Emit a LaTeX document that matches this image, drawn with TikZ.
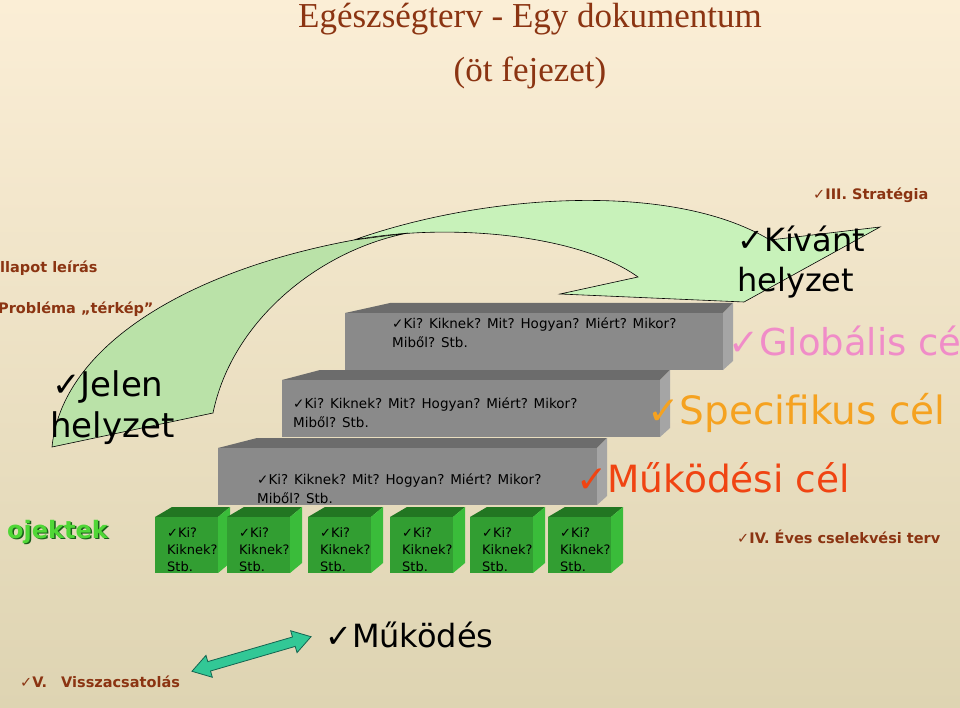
\documentclass[tikz,border=0pt]{standalone}
\usepackage{fontspec}
\setmainfont{DejaVu Sans}
\newfontfamily\titlefont{Liberation Serif}
\usetikzlibrary{shapes.arrows}

\definecolor{bgtop}{RGB}{251,238,214}
\definecolor{bgmid}{RGB}{244,232,204}
\definecolor{bgbot}{RGB}{222,212,178}
\definecolor{barna}{RGB}{139,52,18}
\definecolor{rozsa}{RGB}{240,140,200}
\definecolor{narancs}{RGB}{245,162,32}
\definecolor{piros}{RGB}{240,68,18}
\definecolor{zold}{RGB}{80,215,55}
\definecolor{sotetzold}{RGB}{25,95,25}
\definecolor{turkiz}{RGB}{50,200,150}

\newcommand{\pipa}{✓}
% one green cube, text node anchored at the baseline of its last line
\newcommand{\kocka}[2]{%
  \fill[kockateto] (#2,517) -- (#2+17,507) -- (#2+75,507) -- (#2+63,517) -- cycle;
  \fill[kockaoldal] (#2+63,517) -- (#2+75,507) -- (#2+75,563) -- (#2+63,573) -- cycle;
  \fill[kockaelo] (#2,517) rectangle (#2+63,573);
  \node[kerdes, font=\fontsize{13}{17}\selectfont] (#1) at (#2+12,571) {\pipa Ki?\\Kiknek?\\Stb.};
}

\begin{document}
\begin{tikzpicture}[x=1pt, y=-1pt,
  kerdes/.style={anchor=base west, inner sep=0pt, align=left},
  cimke/.style={anchor=base west, inner sep=0pt, text=barna, font=\fontsize{14.5}{17}\selectfont},
  nagy/.style={anchor=base west, inner sep=0pt, align=left},
  szalag/.style={fill={rgb,255:red,200;green,242;blue,186}, draw=black, line width=0.6pt},
  szalaghat/.style={fill={rgb,255:red,186;green,226;blue,168}, draw=black, line width=0.6pt},
  lepcsoelo/.style={fill={rgb,255:red,138;green,138;blue,138}},
  lepcsoteto/.style={fill={rgb,255:red,108;green,108;blue,108}},
  lepcsooldal/.style={fill={rgb,255:red,165;green,165;blue,165}},
  kockaelo/.style={fill={rgb,255:red,50;green,158;blue,50}},
  kockateto/.style={fill={rgb,255:red,34;green,118;blue,34}},
  kockaoldal/.style={fill={rgb,255:red,58;green,188;blue,58}}]
\useasboundingbox (0,0) rectangle (960,708);
\shade[top color=bgtop, middle color=bgmid, bottom color=bgbot] (0,0) rectangle (960,708);
\clip (0,0) rectangle (960,708);

% title
\node[text=barna, font=\titlefont\fontsize{35}{40}\selectfont, anchor=base] (cim) at (530,28) {Egészségterv - Egy dokumentum};
\node[text=barna, font=\titlefont\fontsize{35}{40}\selectfont, anchor=base] (alcim) at (530,82) {(öt fejezet)};

% curved arrow
\filldraw[szalag] (354,240) .. controls (480,195) and (670,180) .. (770,240) -- (880,227)
  -- (744,302) -- (560,294) -- (638,277) .. controls (580,235) and (450,222) .. (354,240) -- cycle;
\filldraw[szalaghat] (52,447) .. controls (62,345) and (190,270) .. (354,240) -- (408,233)
  .. controls (320,250) and (232,320) .. (213,413) -- cycle;

% steps
\fill[lepcsoteto] (345,313) -- (390,303) -- (733,303) -- (723,313) -- cycle;
\fill[lepcsooldal] (723,313) -- (733,303) -- (733,361) -- (723,370) -- cycle;
\fill[lepcsoelo] (345,313) rectangle (723,370);
\fill[lepcsoteto] (282,380) -- (320,370) -- (670,370) -- (660,380) -- cycle;
\fill[lepcsooldal] (660,380) -- (670,370) -- (670,428) -- (660,437) -- cycle;
\fill[lepcsoelo] (282,380) rectangle (660,437);
\fill[lepcsoteto] (218,448) -- (257,438) -- (607,438) -- (597,448) -- cycle;
\fill[lepcsooldal] (597,448) -- (607,438) -- (607,496) -- (597,505) -- cycle;
\fill[lepcsoelo] (218,448) rectangle (597,505);

\node[kerdes, font=\fontsize{13.5}{19}\selectfont] (l_1) at (392,347) {\pipa Ki? Kiknek? Mit? Hogyan? Miért? Mikor?\\Miből? Stb.};
\node[kerdes, font=\fontsize{13.5}{19}\selectfont] (l_2) at (293,427) {\pipa Ki? Kiknek? Mit? Hogyan? Miért? Mikor?\\Miből? Stb.};
\node[kerdes, font=\fontsize{13.5}{19}\selectfont] (l_3) at (257,503) {\pipa Ki? Kiknek? Mit? Hogyan? Miért? Mikor?\\Miből? Stb.};

% projects
\kocka{k_1}{155}
\kocka{k_2}{227}
\kocka{k_3}{308}
\kocka{k_4}{390}
\kocka{k_5}{470}
\kocka{k_6}{548}

% left side
\node[cimke] (allapot) at (0,273) {\bfseries llapot leírás};
\node[cimke] (problema) at (-2,313) {\bfseries Probléma „térkép”};
\node[nagy, font=\fontsize{34}{41}\selectfont] (jelen) at (52,437) {\pipa Jelen\\\hspace*{-2pt}helyzet};
\node[anchor=base west, inner sep=0pt, text=sotetzold, font=\bfseries\fontsize{24}{28}\selectfont] (proj_s) at (8.5,539.5) {ojektek};
\node[anchor=base west, inner sep=0pt, text=zold, font=\bfseries\fontsize{24}{28}\selectfont] (proj) at (7,538) {ojektek};

% right side
\node[cimke] (strategia) at (813,200) {\pipa\bfseries III. Stratégia};
\node[nagy, font=\fontsize{32}{40}\selectfont] (kivant) at (737,292) {\pipa Kívánt\\helyzet};
\node[nagy, text=rozsa, font=\fontsize{37}{40}\selectfont] (globalis) at (728,355) {\pipa Globális cé};
\node[nagy, text=narancs, font=\fontsize{39}{42}\selectfont] (specifikus) at (647,424) {\pipa Specifikus cél};
\node[nagy, text=piros, font=\fontsize{37.5}{40}\selectfont] (mukodesi) at (576,492) {\pipa Működési cél};
\node[cimke] (eves) at (737,543) {\pipa\bfseries IV. Éves cselekvési terv};

% bottom
\node[nagy, font=\fontsize{32}{36}\selectfont] (mukodes) at (325,647) {\pipa Működés};
\node[cimke] (vissza) at (20,687) {\pipa\bfseries V.\hspace{14pt}Visszacsatolás};
\node[double arrow, draw={rgb,255:red,20;green,100;blue,80}, fill=turkiz, line width=0.8pt,
  minimum height=124pt, inner xsep=0pt, inner ysep=4.5pt, double arrow head extend=6.5pt,
  double arrow tip angle=65, rotate=16.2] (csatol) at (251.5,654) {};
\end{tikzpicture}
\end{document}
